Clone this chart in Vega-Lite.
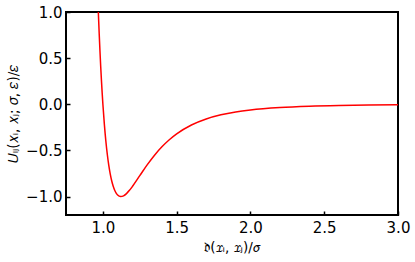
{
  "$schema": "https://vega.github.io/schema/vega-lite/v6.json",
  "width": 332,
  "height": 203,
  "autosize": "none",
  "padding": {"left": 66, "top": 12, "right": 17, "bottom": 47},
  "background": "white",
  "config": {
    "view": {"stroke": "black", "strokeWidth": 2},
    "font": "DejaVu Sans",
    "axis": {
      "grid": false,
      "domain": false,
      "tickColor": "black",
      "tickSize": -4,
      "tickWidth": 1.5,
      "labelFlush": false,
      "labelOverlap": false,
      "labelFont": "DejaVu Sans",
      "labelFontSize": 15,
      "labelColor": "black",
      "titleFont": "DejaVu Sans",
      "titleFontSize": 13.5,
      "titleFontWeight": "normal",
      "titleColor": "black"
    }
  },
  "data": {
    "values": [
      {"r": 0.95, "U": 1.961},
      {"r": 0.96, "U": 1.418},
      {"r": 0.965, "U": 1.1805},
      {"r": 0.97, "U": 0.9629},
      {"r": 0.975, "U": 0.7637},
      {"r": 0.98, "U": 0.5819},
      {"r": 0.985, "U": 0.4157},
      {"r": 0.99, "U": 0.2641},
      {"r": 0.995, "U": 0.1259},
      {"r": 1.0, "U": 0.0},
      {"r": 1.01, "U": -0.2184},
      {"r": 1.02, "U": -0.3979},
      {"r": 1.03, "U": -0.5444},
      {"r": 1.04, "U": -0.6629},
      {"r": 1.05, "U": -0.7575},
      {"r": 1.06, "U": -0.832},
      {"r": 1.07, "U": -0.8893},
      {"r": 1.08, "U": -0.9322},
      {"r": 1.09, "U": -0.9629},
      {"r": 1.1, "U": -0.9834},
      {"r": 1.12, "U": -0.9998},
      {"r": 1.14, "U": -0.9921},
      {"r": 1.16, "U": -0.9679},
      {"r": 1.18, "U": -0.9328},
      {"r": 1.2, "U": -0.891},
      {"r": 1.25, "U": -0.7737},
      {"r": 1.3, "U": -0.657},
      {"r": 1.35, "U": -0.5516},
      {"r": 1.4, "U": -0.4607},
      {"r": 1.45, "U": -0.3841},
      {"r": 1.5, "U": -0.3203},
      {"r": 1.6, "U": -0.2242},
      {"r": 1.7, "U": -0.1589},
      {"r": 1.8, "U": -0.1141},
      {"r": 1.9, "U": -0.0832},
      {"r": 2.0, "U": -0.0615},
      {"r": 2.2, "U": -0.035},
      {"r": 2.4, "U": -0.0208},
      {"r": 2.6, "U": -0.0129},
      {"r": 2.8, "U": -0.0083},
      {"r": 3.0, "U": -0.0055}
    ]
  },
  "mark": {"type": "line", "color": "#ff0000", "strokeWidth": 1.5, "clip": true, "interpolate": "monotone"},
  "encoding": {
    "x": {
      "field": "r",
      "type": "quantitative",
      "scale": {"domain": [0.75, 3.0], "nice": false, "zero": false},
      "axis": {"values": [1.0, 1.5, 2.0, 2.5, 3.0], "format": ".1f", "title": "𝔡(𝑥ᵢ, 𝑥ⱼ)/𝜎", "labelPadding": 9, "titlePadding": 5}
    },
    "y": {
      "field": "U",
      "type": "quantitative",
      "scale": {"domain": [-1.2, 1.0], "nice": false, "zero": false},
      "axis": {"values": [-1.0, -0.5, 0.0, 0.5, 1.0], "format": ".1f", "title": "𝑈ₗⱼ(𝑥ᵢ, 𝑥ⱼ; 𝜎, 𝜀)/𝜀", "labelPadding": 8, "titlePadding": 5}
    }
  }
}
